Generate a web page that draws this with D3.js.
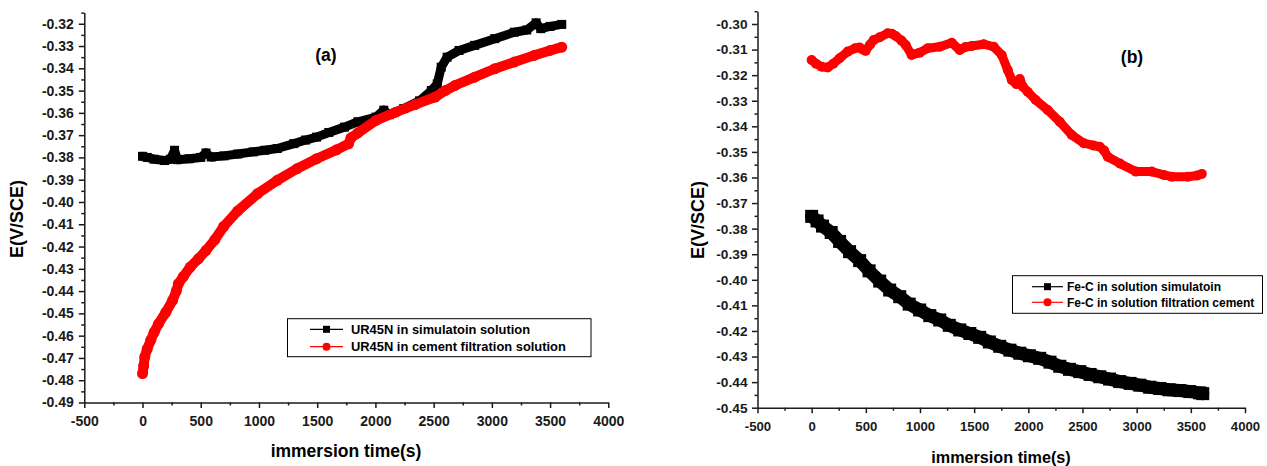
<!DOCTYPE html>
<html>
<head>
<meta charset="utf-8">
<script src="https://cdn.jsdelivr.net/npm/d3@7"></script>
<style>
  html, body { margin: 0; padding: 0; background: #fff; }
  svg { display: block; font-family: "Liberation Sans", Arial, sans-serif; }
  .tick text { font-weight: bold; fill: #1a1a1a; }
  .domain, .tick line { stroke: #1a1a1a; stroke-width: 1.5; }
</style>
</head>
<body>
<script>
// ---- data: open-circuit potential vs immersion time ----
// (a) UR45N steel
const ur45nSimTime = [0, 40, 100, 190, 240, 275, 300, 400, 500, 545, 590, 700, 817, 950, 1050, 1157, 1300, 1400, 1495, 1600, 1734, 1850, 2005, 2072, 2120, 2243, 2379, 2480, 2531, 2565, 2616, 2718, 2852, 3025, 3193, 3300, 3380, 3420, 3500, 3600];
const ur45nSimE = [-0.3795, -0.3800, -0.3808, -0.3814, -0.3808, -0.3768, -0.3810, -0.3806, -0.3800, -0.3780, -0.3798, -0.3793, -0.3785, -0.3775, -0.3768, -0.3760, -0.3738, -0.3722, -0.3709, -0.3688, -0.3664, -0.3640, -0.3619, -0.3588, -0.3608, -0.3581, -0.3546, -0.3500, -0.3470, -0.3395, -0.3350, -0.3320, -0.3297, -0.3267, -0.3238, -0.3228, -0.3196, -0.3222, -0.3212, -0.3203];

const ur45nCemTime = [0, 10, 19, 40, 70, 100, 137, 200, 258, 290, 308, 350, 410, 480, 546, 620, 697, 818, 988, 1157, 1326, 1495, 1666, 1769, 1790, 1850, 2005, 2175, 2345, 2514, 2600, 2684, 2852, 3025, 3193, 3363, 3500, 3600];
const ur45nCemE = [-0.4770, -0.4735, -0.4696, -0.4660, -0.4621, -0.4585, -0.4547, -0.4495, -0.4442, -0.4400, -0.4367, -0.4335, -0.4292, -0.4255, -0.4217, -0.4170, -0.4110, -0.4040, -0.3963, -0.3903, -0.3851, -0.3806, -0.3766, -0.3739, -0.3712, -0.3690, -0.3634, -0.3597, -0.3562, -0.3529, -0.3500, -0.3477, -0.3440, -0.3402, -0.3372, -0.3342, -0.3320, -0.3305];

// (b) Fe-C steel
const feSimTime = [0, 50, 100, 180, 258, 350, 443, 530, 628, 720, 813, 900, 997, 1090, 1182, 1270, 1367, 1460, 1551, 1640, 1736, 1830, 1921, 2010, 2105, 2200, 2290, 2380, 2475, 2570, 2659, 2750, 2844, 2940, 3029, 3120, 3213, 3300, 3398, 3490, 3583, 3610];
const feSimE = [-0.3752, -0.3770, -0.3790, -0.3815, -0.3850, -0.3890, -0.3925, -0.3965, -0.4005, -0.4040, -0.4066, -0.4095, -0.4118, -0.4140, -0.4157, -0.4178, -0.4196, -0.4210, -0.4225, -0.4243, -0.4260, -0.4275, -0.4287, -0.4297, -0.4307, -0.4322, -0.4338, -0.4350, -0.4359, -0.4370, -0.4379, -0.4388, -0.4398, -0.4405, -0.4412, -0.4420, -0.4425, -0.4430, -0.4433, -0.4437, -0.4442, -0.4445];

const feCemTime = [0, 40, 92, 148, 200, 258, 332, 400, 443, 470, 498, 540, 572, 628, 702, 740, 776, 830, 868, 923, 997, 1071, 1182, 1293, 1367, 1420, 1477, 1588, 1681, 1754, 1810, 1847, 1890, 1921, 1950, 1994, 2068, 2179, 2290, 2401, 2512, 2600, 2659, 2700, 2733, 2844, 2992, 3139, 3250, 3324, 3472, 3560, 3601];
const feCemE = [-0.3141, -0.3155, -0.3167, -0.3170, -0.3155, -0.3134, -0.3108, -0.3095, -0.3092, -0.3100, -0.3105, -0.3080, -0.3063, -0.3052, -0.3036, -0.3038, -0.3047, -0.3065, -0.3082, -0.3121, -0.3112, -0.3095, -0.3089, -0.3073, -0.3102, -0.3090, -0.3086, -0.3079, -0.3089, -0.3121, -0.3180, -0.3219, -0.3235, -0.3215, -0.3245, -0.3265, -0.3297, -0.3336, -0.3382, -0.3434, -0.3466, -0.3475, -0.3480, -0.3495, -0.3519, -0.3545, -0.3577, -0.3577, -0.3590, -0.3597, -0.3597, -0.3592, -0.3586];

// ---- tick values ----
const timeTicks = [-500, 0, 500, 1000, 1500, 2000, 2500, 3000, 3500, 4000];
const timeMinorTicks = [-250, 250, 750, 1250, 1750, 2250, 2750, 3250, 3750];
const potTicksA = [-0.49, -0.48, -0.47, -0.46, -0.45, -0.44, -0.43, -0.42, -0.41, -0.40, -0.39, -0.38, -0.37, -0.36, -0.35, -0.34, -0.33, -0.32];
const potTicksB = [-0.45, -0.44, -0.43, -0.42, -0.41, -0.40, -0.39, -0.38, -0.37, -0.36, -0.35, -0.34, -0.33, -0.32, -0.31, -0.30];

// ---- labels ----
const legendA = ["UR45N in simulatoin solution", "UR45N in cement filtration solution"];
const legendB = ["Fe-C in solution simulatoin", "Fe-C in solution filtration cement"];
const xTitle = "immersion time(s)";
const yTitle = "E(V/SCE)";

const zip = (t, e) => t.map((v, i) => ({ t: v, e: e[i] }));
const minorBetween = (ticks) => {
  const out = [];
  for (let i = 0; i < ticks.length - 1; i++) out.push(+((ticks[i] + ticks[i + 1]) / 2).toFixed(4));
  out.push(+(ticks[ticks.length - 1] + 0.005).toFixed(4));
  return out;
};

const svg = d3.select("body").append("svg")
  .attr("width", 1267).attr("height", 466);

function drawPanel(cfg) {
  const x = d3.scaleLinear().domain([-500, 4000]).range(cfg.xRange);
  const y = d3.scaleLinear().domain(cfg.yDomain).range(cfg.yRange);
  const g = svg.append("g");

  // minor ticks
  g.append("g").attr("transform", `translate(0,${cfg.yRange[0]})`)
    .call(d3.axisBottom(x).tickValues(timeMinorTicks).tickSize(3).tickFormat(""))
    .call(s => s.select(".domain").remove());
  g.append("g").attr("transform", `translate(${cfg.xRange[0]},0)`)
    .call(d3.axisLeft(y).tickValues(minorBetween(cfg.yTicks)).tickSize(3).tickFormat(""))
    .call(s => s.select(".domain").remove());

  // major axes
  g.append("g").attr("transform", `translate(0,${cfg.yRange[0]})`)
    .call(d3.axisBottom(x).tickValues(timeTicks).tickSize(5.5).tickSizeOuter(0)
      .tickPadding(cfg.xPad).tickFormat(d => String(d)))
    .call(s => s.selectAll("text").style("font-size", cfg.xTickFont + "px"));
  g.append("g").attr("transform", `translate(${cfg.xRange[0]},0)`)
    .call(d3.axisLeft(y).tickValues(cfg.yTicks).tickSize(5.5).tickSizeOuter(0)
      .tickPadding(cfg.yPad).tickFormat(d => d.toFixed(2)))
    .call(s => s.selectAll("text").style("font-size", cfg.yTickFont + "px"));

  // series: a thick trace with a marker on every recorded point
  const line = d3.line().x(d => x(d.t)).y(d => y(d.e));
  cfg.series.forEach(s => {
    g.append("path").datum(s.data)
      .attr("fill", "none").attr("stroke", s.color)
      .attr("stroke-width", s.width)
      .attr("stroke-linejoin", "round").attr("stroke-linecap", "round")
      .attr("d", line);
    if (s.shape === "square") {
      g.append("g").selectAll("rect").data(s.data).join("rect")
        .attr("x", d => x(d.t) - s.width / 2).attr("y", d => y(d.e) - s.width / 2)
        .attr("width", s.width).attr("height", s.width).attr("fill", s.color);
    } else {
      g.append("g").selectAll("circle").data(s.data).join("circle")
        .attr("cx", d => x(d.t)).attr("cy", d => y(d.e))
        .attr("r", s.width / 2 + 0.5).attr("fill", s.color);
    }
  });

  // titles
  g.append("text").attr("x", cfg.xTitlePos[0]).attr("y", cfg.xTitlePos[1])
    .attr("dy", "0.35em").attr("text-anchor", "middle")
    .style("font-weight", "bold").style("font-size", cfg.xTitleFont + "px")
    .text(xTitle);
  g.append("text")
    .attr("transform", `translate(${cfg.yTitlePos[0]},${cfg.yTitlePos[1]}) rotate(-90)`)
    .attr("dy", "0.35em").attr("text-anchor", "middle")
    .style("font-weight", "bold").style("font-size", "18px")
    .text(yTitle);
  g.append("text").attr("x", cfg.tagPos[0]).attr("y", cfg.tagPos[1])
    .attr("dy", "0.35em").attr("text-anchor", "middle")
    .style("font-weight", "bold").style("font-size", "17.5px")
    .text(cfg.tag);

  // legend
  const L = cfg.legend;
  g.append("rect").attr("x", L.box[0]).attr("y", L.box[1])
    .attr("width", L.box[2]).attr("height", L.box[3])
    .attr("fill", "#fff").attr("stroke", "#000").attr("stroke-width", 1);
  cfg.series.forEach((s, i) => {
    const ry = L.rows[i];
    g.append("line").attr("x1", L.line[0]).attr("x2", L.line[1])
      .attr("y1", ry).attr("y2", ry).attr("stroke", s.color).attr("stroke-width", 1.2);
    const mx = (L.line[0] + L.line[1]) / 2;
    if (s.shape === "square") {
      g.append("rect").attr("x", mx - 3.5).attr("y", ry - 3.5)
        .attr("width", 7).attr("height", 7).attr("fill", s.color);
    } else {
      g.append("circle").attr("cx", mx).attr("cy", ry).attr("r", 4).attr("fill", s.color);
    }
    g.append("text").attr("x", L.textX).attr("y", ry).attr("dy", "0.35em")
      .style("font-weight", "bold").style("font-size", L.font + "px")
      .text(cfg.legendLabels[i]);
  });
}

drawPanel({
  xRange: [84.3, 608.3],
  yDomain: [-0.49, -0.315],
  yRange: [402.5, 12.6],
  yTicks: potTicksA,
  xPad: 8.5, yPad: 5, xTickFont: 14, yTickFont: 14,
  xTitlePos: [346, 451], xTitleFont: 17.5,
  yTitlePos: [17, 219],
  tag: "(a)", tagPos: [326, 54.5],
  series: [
    { data: zip(ur45nSimTime, ur45nSimE), color: "#000", shape: "square", width: 9 },
    { data: zip(ur45nCemTime, ur45nCemE), color: "#ff0000", shape: "circle", width: 10 }
  ],
  legendLabels: legendA,
  legend: { box: [287.5, 318.7, 303.5, 38], rows: [329.3, 346.7], line: [310, 343], textX: 351, font: 12.9 }
});

drawPanel({
  xRange: [757.5, 1245],
  yDomain: [-0.45, -0.295],
  yRange: [407.7, 11.2],
  yTicks: potTicksB,
  xPad: 8.6, yPad: 4.5, xTickFont: 13.2, yTickFont: 13.7,
  xTitlePos: [1001, 457], xTitleFont: 16.2,
  yTitlePos: [698, 220],
  tag: "(b)", tagPos: [1132, 56.5],
  series: [
    { data: zip(feSimTime, feSimE), color: "#000", shape: "square", width: 13 },
    { data: zip(feCemTime, feCemE), color: "#ff0000", shape: "circle", width: 9 }
  ],
  legendLabels: legendB,
  legend: { box: [1012.5, 275.7, 250, 37.6], rows: [286.7, 302.3], line: [1032, 1063], textX: 1067, font: 12 }
});
</script>
</body>
</html>
